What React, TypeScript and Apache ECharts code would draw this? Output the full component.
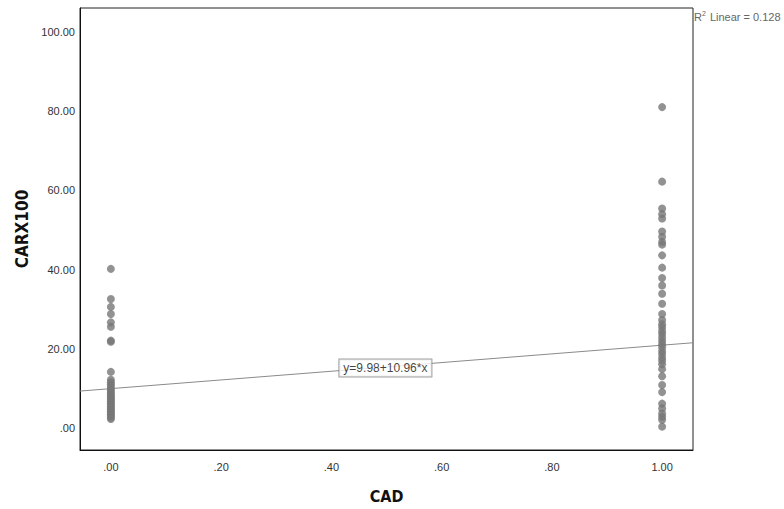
import React, { useEffect, useRef } from "react";
import * as echarts from "echarts";

const xTicks = [0, 0.2, 0.4, 0.6, 0.8, 1.0];
const yTicks = [0, 20, 40, 60, 80, 100];
const groupNoCAD = [40.2, 32.6, 30.6, 28.8, 26.7, 25.6, 22.1, 21.8, 14.2, 12.2, 11.6, 11.1, 10.5, 10.0, 9.5, 9.0, 8.5, 8.0, 7.6, 7.2, 6.8, 6.3, 5.9, 5.5, 5.1, 4.7, 4.3, 3.9, 3.5, 3.1, 2.7, 2.3];
const groupCAD = [81.0, 62.2, 55.4, 54.0, 52.9, 49.6, 48.3, 47.0, 46.3, 43.6, 40.5, 37.9, 36.0, 33.9, 31.4, 28.8, 27.3, 26.2, 25.5, 24.6, 23.8, 22.9, 22.0, 21.2, 20.4, 19.5, 18.7, 17.8, 17.0, 16.1, 14.9, 13.1, 10.9, 9.1, 6.2, 5.0, 3.7, 2.9, 2.1, 0.4];
const intercept = 9.98;
const slope = 10.96;
const r2 = 0.128;
const xMin = -0.056;
const xMax = 1.056;
const yMin = -5.5;
const yMax = 106;

const fmt = (v: number) => {
  const s = v.toFixed(2);
  return s.startsWith("0") ? s.slice(1) : s;
};

export default function App() {
  const ref = useRef<HTMLDivElement>(null);
  useEffect(() => {
    if (!ref.current) return;
    const chart = echarts.init(ref.current, undefined, { renderer: "svg" });
    const points = [
      ...groupNoCAD.map((v) => [0, v]),
      ...groupCAD.map((v) => [1, v]),
    ];
    const font = "'Liberation Sans', 'DejaVu Sans', sans-serif";
    const nameFont = "'DejaVu Sans Condensed', 'Liberation Sans Narrow', 'Liberation Sans', sans-serif";
    chart.setOption({
      animation: false,
      textStyle: { fontFamily: font },
      grid: {
        left: 80,
        right: 91,
        top: 8,
        bottom: 52,
        show: true,
        borderColor: "#222",
        borderWidth: 1,
        backgroundColor: "#fff",
      },
      xAxis: {
        type: "value",
        min: xMin,
        max: xMax,
        name: "CAD",
        nameLocation: "middle",
        nameGap: 38,
        nameTextStyle: { fontSize: 16, fontWeight: "bold", color: "#111", fontFamily: nameFont },
        axisLine: { show: true, onZero: false, lineStyle: { color: "#111", width: 1 } },
        axisTick: { show: false },
        splitLine: { show: false },
        axisLabel: {
          color: "#333",
          fontSize: 11,
          margin: 11,
          customValues: xTicks,
          formatter: (v: number) => fmt(v),
        },
      },
      yAxis: {
        type: "value",
        min: yMin,
        max: yMax,
        name: "CARX100",
        nameLocation: "middle",
        nameGap: 41,
        nameTextStyle: { fontSize: 17, fontWeight: "bold", color: "#111", fontFamily: nameFont },
        axisLine: { show: true, onZero: false, lineStyle: { color: "#111", width: 1 } },
        axisTick: { show: false },
        splitLine: { show: false },
        axisLabel: {
          color: "#333",
          fontSize: 11,
          margin: 5,
          customValues: yTicks,
          formatter: (v: number) => fmt(v),
        },
      },
      series: [
        {
          type: "line",
          data: [
            [xMin, intercept + slope * xMin],
            [xMax, intercept + slope * xMax],
          ],
          showSymbol: false,
          symbol: "none",
          lineStyle: { color: "#8a8a8a", width: 1 },
          z: 1,
        },
        {
          type: "scatter",
          data: points,
          symbolSize: 8,
          itemStyle: { color: "#777777" },
          z: 2,
        },
        {
          type: "scatter",
          data: [[0.498, intercept + slope * 0.498]],
          symbolSize: 1,
          itemStyle: { color: "rgba(0,0,0,0)" },
          z: 3,
          label: {
            show: true,
            position: "inside",
            offset: [0, 1],
            formatter: "y=" + intercept.toFixed(2) + "+" + slope.toFixed(2) + "*x",
            color: "#111",
            fontSize: 12,
            fontFamily: font,
            backgroundColor: "#fff",
            borderColor: "#888",
            borderWidth: 1,
            padding: [3, 4, 2, 4],
          },
        },
      ],
      graphic: [
        {
          type: "text",
          left: 694,
          top: 10,
          style: {
            text: "{b|R}{s|2}{b| Linear = " + r2.toFixed(3) + "}",
            rich: {
              b: { fontSize: 11, fill: "#666", fontFamily: font },
              s: { fontSize: 7, fill: "#666", verticalAlign: "top", padding: [0, 1, 7, 0], fontFamily: font },
            },
          },
        },
      ],
    });
    return () => chart.dispose();
  }, []);
  return <div ref={ref} style={{ width: 784, height: 509, position: "absolute", left: 0, top: 0 }} />;
}
